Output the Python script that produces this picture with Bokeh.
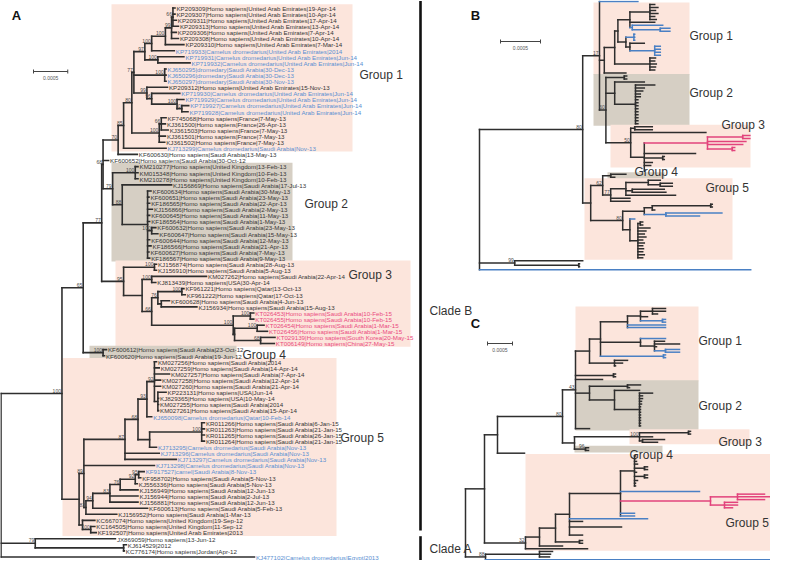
import re
from bokeh.plotting import figure
from bokeh.models import Range1d, ColumnDataSource
from bokeh.embed import file_html
from bokeh.resources import INLINE
from bokeh.core.properties import value

# ======================= DATA =======================
# Tree depths are root-to-node distances in units of 1e-4 substitutions/site
# (scale bar 0.0005 = 5 units). Internal-node labels are bootstrap values.

LABELS_A = [
    "KP209309|Homo sapiens|United Arab Emirates|19-Apr-14",
    "KP209307|Homo sapiens|United Arab Emirates|10-Apr-14",
    "KP209311|Homo sapiens|United Arab Emirates|17-Apr-14",
    "KP209313|Homo sapiens|United Arab Emirates|13-Apr-14",
    "KP209306|Homo sapiens|United Arab Emirates|7-Apr-14",
    "KP209308|Homo sapiens|United Arab Emirates|10-Apr-14",
    "KP209310|Homo sapiens|United Arab Emirates|7-Mar-14",
    "KP719933|Camelus dromedarius|United Arab Emirates|2014",
    "KP719931|Camelus dromedarius|United Arab Emirates|Jun-14",
    "KP719932|Camelus dromedarius|United Arab Emirates|Jun-14",
    "KJ650295|dromedary|Saudi Arabia|30-Dec-13",
    "KJ650296|dromedary|Saudi Arabia|30-Dec-13",
    "KJ650297|dromedary|Saudi Arabia|30-Nov-13",
    "KP209312|Homo sapiens|United Arab Emirates|15-Nov-13",
    "KP719930|Camelus dromedarius|United Arab Emirates|Jun-14",
    "KP719929|Camelus dromedarius|United Arab Emirates|Jun-14",
    "KP719927|Camelus dromedarius|United Arab Emirates|Jun-14",
    "KP719928|Camelus dromedarius|United Arab Emirates|Jun-14",
    "KF745068|Homo sapiens|France|7-May-13",
    "KJ361500|Homo sapiens|France|26-Apr-13",
    "KJ361503|Homo sapiens|France|7-May-13",
    "KJ361501|Homo sapiens|France|7-May-13",
    "KJ361502|Homo sapiens|France|7-May-13",
    "KJ713299|Camelus dromedarius|Saudi Arabia|Nov-13",
    "KF600630|Homo sapiens|Saudi Arabia|13-May-13",
    "KF600652|Homo sapiens|Saudi Arabia|30-Oct-12",
    "KM210277|Homo sapiens|United Kingdom|13-Feb-13",
    "KM015348|Homo sapiens|United Kingdom|10-Feb-13",
    "KM210278|Homo sapiens|United Kingdom|10-Feb-13",
    "KJ156869|Homo sapiens|Saudi Arabia|17-Jul-13",
    "KF600634|Homo sapiens|Saudi Arabia|30-May-13",
    "KF600651|Homo sapiens|Saudi Arabia|23-May-13",
    "KF186565|Homo sapiens|Saudi Arabia|22-Apr-13",
    "KJ156866|Homo sapiens|Saudi Arabia|2-May-13",
    "KF600645|Homo sapiens|Saudi Arabia|11-May-13",
    "KF186564|Homo sapiens|Saudi Arabia|1-May-13",
    "KF600632|Homo sapiens|Saudi Arabia|23-May-13",
    "KF600647|Homo sapiens|Saudi Arabia|15-May-13",
    "KF600644|Homo sapiens|Saudi Arabia|12-May-13",
    "KF186566|Homo sapiens|Saudi Arabia|21-Apr-13",
    "KF600627|Homo sapiens|Saudi Arabia|7-May-13",
    "KF186567|Homo sapiens|Saudi Arabia|9-May-13",
    "KJ156874|Homo sapiens|Saudi Arabia|28-Aug-13",
    "KJ156910|Homo sapiens|Saudi Arabia|5-Aug-13",
    "KM027262|Homo sapiens|Saudi Arabia|22-Apr-14",
    "KJ813439|Homo sapiens|USA|30-Apr-14",
    "KF961221|Homo sapiens|Qatar|13-Oct-13",
    "KF961222|Homo sapiens|Qatar|17-Oct-13",
    "KF600628|Homo sapiens|Saudi Arabia|4-Jun-13",
    "KJ156934|Homo sapiens|Saudi Arabia|15-Aug-13",
    "KT026453|Homo sapiens|Saudi Arabia|10-Feb-15",
    "KT026455|Homo sapiens|Saudi Arabia|10-Feb-15",
    "KT026454|Homo sapiens|Saudi Arabia|1-Mar-15",
    "KT026456|Homo sapiens|Saudi Arabia|1-Mar-15",
    "KT029139|Homo sapiens|South Korea|20-May-15",
    "KT006149|Homo sapiens|China|27-May-15",
    "KF600612|Homo sapiens|Saudi Arabia|23-Oct-12",
    "KF600620|Homo sapiens|Saudi Arabia|19-Jun-12",
    "KM027256|Homo sapiens|Saudi Arabia|2014",
    "KM027259|Homo sapiens|Saudi Arabia|14-Apr-14",
    "KM027257|Homo sapiens|Saudi Arabia|7-Apr-14",
    "KM027258|Homo sapiens|Saudi Arabia|12-Apr-14",
    "KM027260|Homo sapiens|Saudi Arabia|21-Apr-14",
    "KP223131|Homo sapiens|USA|Jun-14",
    "KJ829365|Homo sapiens|USA|10-May-14",
    "KM027255|Homo sapiens|Saudi Arabia|2014",
    "KM027261|Homo sapiens|Saudi Arabia|15-Apr-14",
    "KJ650098|Camelus dromedarius|Qatar|10-Feb-14",
    "KR011266|Homo sapiens|Saudi Arabia|6-Jan-15",
    "KR011263|Homo sapiens|Saudi Arabia|21-Jan-15",
    "KR011265|Homo sapiens|Saudi Arabia|26-Jan-15",
    "KR011264|Homo sapiens|Saudi Arabia|21-Jan-15",
    "KJ713295|Camelus dromedarius|Saudi Arabia|Nov-13",
    "KJ713296|Camelus dromedarius|Saudi Arabia|Nov-13",
    "KJ713297|Camelus dromedarius|Saudi Arabia|Nov-13",
    "KJ713298|Camelus dromedarius|Saudi Arabia|Nov-13",
    "KF917527|camel|Saudi Arabia|8-Nov-13",
    "KF958702|Homo sapiens|Saudi Arabia|5-Nov-13",
    "KJ556336|Homo sapiens|Saudi Arabia|5-Nov-13",
    "KJ156949|Homo sapiens|Saudi Arabia|12-Jun-13",
    "KJ156944|Homo sapiens|Saudi Arabia|2-Jul-13",
    "KJ156881|Homo sapiens|Saudi Arabia|12-Jun-13",
    "KF600613|Homo sapiens|Saudi Arabia|5-Feb-13",
    "KJ156952|Homo sapiens|Saudi Arabia|1-Mar-13",
    "KC667074|Homo sapiens|United Kingdom|19-Sep-12",
    "KC164505|Homo sapiens|United Kingdom|11-Sep-12",
    "KF192507|Homo sapiens|United Arab Emirates|2013",
    "JX869059|Homo sapiens|13-Jun-12",
    "KJ614529|2012",
    "KC776174|Homo sapiens|Jordan|Apr-12",
    "KJ477102|Camelus dromedarius|Egypt|2013",
]

CAMEL_A = ["KP719933", "KP719931", "KP719932", "KJ650295", "KJ650296", "KJ650297",
           "KP719930", "KP719929", "KP719927", "KP719928", "KJ713299", "KJ650098",
           "KJ713295", "KJ713296", "KJ713297", "KJ713298", "KF917527", "KJ477102"]
OUTBREAK_2015_A = ["KT026453", "KT026455", "KT026454", "KT026456", "KT029139", "KT006149"]

TREE_A = {
    "root": "({cladeB},{out79},KJ477102:37.0):0",
    "cladeB": "({n65},{g5})100:8.9",
    "n65": "({x77},{g4})65:12.0",
    "g4": "(KF600612:15.4,KF600620:15.1)100:14.9",
    "x77": "({n68},{g3})77:14.7",
    "n68": "({n70},KF600652:15.7,{n79})68:14.9",
    "n70": "({n85},KF600630:19.9)70:17.1",
    "n85": "({n80},KJ713299:24.1)85:17.9",
    "n80": "({n77},{france})80:19.1",
    "n77": "({n97},{kj650},{h99})77:19.4",
    "n97": "({c100},{e100})97:21.0",
    "c100": "({b100},KP719933:25.3)100:22.0",
    "b100": "({n99},KP209310:26.7)100:24.0",
    "n99": "({n66},KP209306:25.6,KP209308:25.9)99:24.9",
    "n66": "(KP209309:25.4,KP209307:25.4,KP209311:25.6,KP209313:25.9)66:25.1",
    "e100": "(KP719931:26.7,KP719932:27.6)100:22.9",
    "kj650": "(KJ650295:24.1,KJ650296:24.1,KJ650297:24.1)100:23.9",
    "h99": "(KP209312:24.3,{i96})99:21.3",
    "i96": "(KP719930:26.1,{j100})96:22.0",
    "j100": "(KP719929:26.7,{k70})100:25.7",
    "k70": "(KP719927:27.4,KP719928:27.3)70:26.4",
    "france": "({f66},KJ361501:24.0,KJ361502:23.9)100:23.1",
    "f66": "(KF745068:24.1,KJ361500:24.0,KJ361503:24.4)66:23.4",
    "n79": "({uk100},{n88})79:16.3",
    "uk100": "(KM210277:20.0,KM015348:20.0,KM210278:20.0)100:19.6",
    "n88": "(KJ156869:24.9,{star})88:17.7",
    "star": "(KF600634:21.9,KF600651:21.6,KF186565:21.7,KJ156866:22.1,KF600645:21.7,"
            "KF186564:21.7,{s67},KF600644:21.7,KF186566:21.9,KF600627:21.6,KF186567:21.7):21.4",
    "s67": "(KF600632:22.6,KF600647:22.9)100:22.0",
    "g3": "({g3a},{p})95:17.9",
    "g3a": "(KJ156874:22.7,KJ156910:22.7)100:22.4",
    "p": "({kmn},{q66}):20.6",
    "kmn": "(KM027262:30.0,KJ813439:22.6)100:22.0",
    "q66": "({r76},{pink})66:22.0",
    "r76": "({kf961},{t})76:22.9",
    "kf961": "(KF961221:26.7,KF961222:26.9)100:26.4",
    "t": "(KF600628:24.6,KJ156934:28.6):23.4",
    "pink": "({pa},{pb})100:33.9",
    "pa": "(KT026453:36.9,KT026455:36.9)100:36.4",
    "pb": "({pc},{pd}):34.1",
    "pc": "(KT026454:38.4,KT026456:38.9)100:37.4",
    "pd": "(KT029139:40.0,KT006149:39.9)68:37.9",
    "g5": "({n89},{ukn}):11.4",
    "n89": "({n87},KJ713298:22.4,{low83})89:12.1",
    "n87": "({n68b},KJ713296:23.1,KJ713297:25.6)87:18.1",
    "n68b": "({n93},{nq})68:20.0",
    "n93": "({n92},KJ650098:22.0)93:21.3",
    "n92": "(KM027256:22.7,KM027259:23.1,KM027257:24.6,KM027258:23.3,KM027260:23.3,{usa})92:22.4",
    "usa": "(KP223131:24.1,KJ829365:23.0,KM027255:23.0,KM027261:23.0):22.9",
    "nq": "({kr100},KJ713295:22.7):21.7",
    "kr100": "(KR011266:29.7,KR011263:29.7,KR011265:29.7,KR011264:29.7)100:29.3",
    "low83": "({n94},KJ156952:16.9)83:12.4",
    "n94": "({n83b},KF600613:21.4)94:13.4",
    "n83b": "({n76},KJ156944:20.0,KJ156881:20.0)83:15.9",
    "n76": "({n92b},KJ156949:20.0)76:17.4",
    "n92b": "({n95},KJ556336:19.9)92:19.6",
    "n95": "(KF917527:20.9,KF958702:20.4)95:20.1",
    "ukn": "(KC667074:13.7,{uk100b}):11.9",
    "uk100b": "(KC164505:13.7,KF192507:13.9)100:13.1",
    "out79": "(JX869059:16.7,(KJ614529:18.3,KC776174:18.0):17.9)79:5.0",
}

GROUPS_A = [("Group 1", "KP209309", "KJ713299"), ("Group 2", "KM210277", "KF186567"),
            ("Group 3", "KJ156874", "KT006149"), ("Group 4", "KF600612", "KF600620"),
            ("Group 5", "KM027256", "KF192507")]
CLADES_A = [("Clade B", "KP209309", "KF192507"), ("Clade A", "JX869059", "KJ477102")]

# Panels B and C: tips coded by host, h = human, c = camel, k = 2015 outbreak, f = zero-length
TREE_B = {
    "root": "({n80},{out99},c:33.9):0",
    "n80": "({n17},{g5top})80:12.9",
    "n17": "(c:19.8,{n612},{n60})17:15.0",
    "n612": "({n622},h:18.3):15.6",
    "n622": "({n625},{france}):16.9",
    "n625": "({n637a},{n633b}):17.3",
    "n637a": "({uae},h:21.9,{bluea}):18.8",
    "uae": "(h:21.9,h:22.3,h:22.0,h:22.3,h:21.9,h:22.1):21.3",
    "bluea": "(c:22.9,(c:23.8,c:23.8):22.6):19.1",
    "n633b": "((c:19.4,c:19.4,c:19.4):19.3,(h:20.6,(c:22.6,c:22.6,c:22.6,c:22.6):21.9):18.8):18.3",
    "france": "(h:22.0,h:21.9,h:22.1,h:22.0,h:21.9):21.3",
    "n60": "((h:18.4,h:18.4):18.1,{g2b},{g3})60:15.8",
    "g2b": "(h:20.6,(h:21.9,h:20.6,h:20.4,h:20.1,h:20.1,h:19.8,h:19.8,h:19.8,h:19.8,"
           "h:19.8,h:19.8,h:19.8,h:19.8,h:19.8):19.5):16.9",
    "g3": "((h:21.6,h:21.6):19.4,h:28.3,{p1})50:18.9",
    "p1": "({pk},h:27.0,(h:23.1,h:23.1):22.9,h:21.6,h:21.4,f:20.6,f:20.6):20.6",
    "pk": "((k:33.8,k:33.8):32.9,k:33.3,k:32.9,(k:31.9,k:31.9):31.6):28.5",
    "g5top": "({n62},{n80b}):13.9",
    "n62": "((h:18.3,h:16.9):16.4,{n77})62:15.4",
    "n77": "(((h:22.6,(h:24.1,h:24.1):22.6):21.1,(h:23.1,h:23.3):19.1,h:24.5):18.3,h:18.8,h:18.8)77:16.4",
    "n80b": "({n652},{n637})80:17.9",
    "n652": "(((h:29.1,h:29.1):28.9,h:21.9):21.6,(c:30.3,c:27.5):23.3):20.6",
    "n637": "(c:19.4,((h:20.4,h:20.4):20.1,h:21.3,h:20.8,h:20.6,h:20.8,h:20.4,h:20.6,"
            "h:20.4,h:20.5,h:20.4,h:20.6,h:20.4):19.8):18.8",
    "out99": "(h:12.9,(h:12.5,h:12.5):12.4)99:4.4",
}
GROUP_ROWS_B = [("Group 1", 1, 24), ("Group 2", 25, 41), ("Group 3", 42, 55),
                ("Group 4", 58, 59), ("Group 5", 60, 86)]

TREE_C = {
    "root": "({na},{n88}):0",
    "na": "({n505},{n32}):3.8",
    "n505": "({n80},h:11.8):6.4",
    "n80": "({n43},{n582})80:19.4",
    "n43": "({g1},f:22.0,f:22.0,(h:30.0,h:30.0):29.6,h:27.4,f:22.0,{g2},h:24.8)43:22.0",
    "g1": "({n608},(h:32.4,h:31.4,h:30.0):29.8):24.8",
    "n608": "({n635},f:27.0,f:27.0,f:27.0,{n648b},(c:40.0,c:40.0):39.6):27.0",
    "n635": "(({n660},h:36.4,(c:40.0,c:40.0):39.4):35.0,c:40.0,c:40.0):32.4",
    "n660": "(h:40.0,h:40.0,h:38.4):37.4",
    "n648b": "(c:40.0,(h:39.8,h:42.8,h:38.2,(c:42.8,c:42.8):40.0):37.8):35.0",
    "g2": "((h:35.0,h:32.8):32.4,(h:34.8,(h:37.4,h:35.4,h:35.4,h:35.2,h:35.2,h:35.0,h:35.0,"
          "h:35.0,h:35.0,h:35.0,h:35.0,h:35.0,h:35.0):34.8):29.8):24.8",
    "n582": "(((h:45.0,h:45.0):44.6,h:37.4,(h:39.8,h:38.4):35.4)100:34.8,f:21.8,(h:24.6,h:24.6)96:24.0):21.8",
    "n32": "({n547},h:24.4)32:12.0",
    "n547": "({n563},h:19.4):14.8",
    "n563": "({n577},f:18.0,(h:23.4,h:23.4):22.8):18.0",
    "n577": "({n628},c:36.4,h:23.4,f:20.8,h:31.2,f:20.8,f:20.8,h:23.4):20.8",
    "n628": "({n642},f:31.0,c:46.8,{pk},f:31.0,c:33.8,c:33.8):31.0",
    "n642": "(h:34.0,h:34.0,h:34.2,h:34.4,(h:36.4,h:36.4):35.8,h:34.2,(h:36.4,h:36.4):35.8,"
            "h:34.4,h:34.0,h:34.0):33.8",
    "pk": "((k:59.8,k:62.0,k:59.8):54.4,(k:54.4,k:54.4,k:53.4):51.8):49.0",
    "n88": "((h:17.4,h:17.0,h:16.8):14.8,c:62.0)88:4.0",
}
GROUP_ROWS_C = [("Group 1", 0, 26), ("Group 2", 27, 44), ("Group 3", 45, 49),
                ("Group 4", 51, 52), ("Group 5", 54, 88)]

SCALE_UNITS = 5  # 0.0005 substitutions/site
SCALE_TEXT = "0.0005"

# ======================= STYLE / LAYOUT =======================
FONT = "Liberation Sans"
DARK = "#2e2e2e"
BLUE_LINE = "#4a80c4"
PINK_LINE = "#e2437c"
BLUE_TXT = "#5a8fd2"
PINK_TXT = "#ea4a7e"
TXT = "#363636"
PINK_BOX = "#fce5dc"
GRAY_BOX = "#d6cfc4"
BOX_COL = [PINK_BOX, GRAY_BOX, PINK_BOX, GRAY_BOX, PINK_BOX]

PANEL = {
    "A": dict(x0=8.5, ppu=6.85, y0=15.5, sp=6.1),
    "B": dict(x0=487.0, ppu=8.0, y0=9.0, sp=2.98),
    "C": dict(x0=473.0, ppu=5.0, y0=316.0, sp=2.73),
}
BOX_X = {
    "A": [(119, 360), (119, 300), (123, 418), (97, 244), (70, 344)],
    "B": [(601, 697), (601, 697), (618, 758), (615, 672), (592, 740)],
    "C": [(583, 706), (583, 706), (637, 757), (582, 670), (533, 783)],
}
BOX_PAD = {"A": 3.3, "B": 2.0, "C": 2.0}
GLABEL_XY = {
    "A": [(367, 82), (312, 211), (356, 282), (250, 362), (348, 445)],
    "B": [(697, 43), (697, 100), (729, 132), (642, 179), (713, 195)],
    "C": [(706, 348), (706, 413), (726, 449), (637, 462), (733, 530)],
}
SCALEBAR_XY = {"A": (41, 79), "B": (508, 49), "C": (495, 351)}
LETTER_XY = {"A": (24, 23), "B": (483, 23), "C": (483, 331)}
CLADE_X = 428


# ======================= TREE HELPERS =======================
def expand(parts):
    s = parts["root"]
    pat = re.compile(r"\{(\w+)\}")
    while "{" in s:
        s = pat.sub(lambda m: parts[m.group(1)], s)
    return "".join(s.split())


def parse(s):
    pos = 0

    def node():
        nonlocal pos
        kids = []
        if s[pos] == "(":
            pos += 1
            while True:
                kids.append(node())
                ch = s[pos]
                pos += 1
                if ch == ")":
                    break
        st = pos
        while pos < len(s) and s[pos] not in ",():":
            pos += 1
        name = s[st:pos]
        depth = 0.0
        if pos < len(s) and s[pos] == ":":
            pos += 1
            st = pos
            while pos < len(s) and s[pos] not in ",()":
                pos += 1
            depth = float(s[st:pos])
        return {"name": name, "d": depth, "kids": kids}

    return node()


def build(parts, x0, ppu, y0, sp, colored):
    tree = parse(expand(parts))
    tips = []

    def place(n):
        n["x"] = x0 + n["d"] * ppu
        if n["kids"]:
            cols = set()
            for k in n["kids"]:
                place(k)
                cols |= k["cols"]
            n["y"] = (n["kids"][0]["y"] + n["kids"][-1]["y"]) / 2.0
            n["cols"] = cols
        else:
            n["y"] = y0 + sp * len(tips)
            tips.append(n)
            n["cols"] = set() if n["name"] == "f" else {n["name"]}

    place(tree)

    def colour(n):
        if colored and n["cols"] == {"c"}:
            return BLUE_LINE
        if colored and n["cols"] == {"k"}:
            return PINK_LINE
        return DARK

    seg = dict(x0=[], y0=[], x1=[], y1=[], c=[])
    boot = dict(x=[], y=[], t=[])

    def add(a, b, c, d, col):
        if abs(a - c) < 0.05 and abs(b - d) < 0.05:
            return
        seg["x0"].append(a); seg["y0"].append(b)
        seg["x1"].append(c); seg["y1"].append(d)
        seg["c"].append(col)

    def draw(n):
        if not n["kids"]:
            return
        add(n["x"], n["kids"][0]["y"], n["x"], n["kids"][-1]["y"], colour(n))
        for k in n["kids"]:
            add(n["x"], k["y"], k["x"], k["y"], colour(k))
            draw(k)
        if n["name"].isdigit():
            boot["x"].append(n["x"] - 1.0)
            boot["y"].append(n["y"] - 0.8)
            boot["t"].append(n["name"])

    draw(tree)
    return tips, seg, boot


# ======================= FIGURE =======================
p = figure(width=770, height=560, x_range=Range1d(8, 778), y_range=Range1d(568, 8),
           output_backend="svg", toolbar_location=None, min_border=0,
           x_axis_location=None, y_axis_location=None)
p.grid.visible = False
p.outline_line_color = None
p.background_fill_color = "white"
p.border_fill_color = "white"

fnt = value(FONT)


def row_y(panel, r):
    return PANEL[panel]["y0"] + PANEL[panel]["sp"] * r


# ---- Panel A ----
pa = PANEL["A"]
tipsA, segA, bootA = build(TREE_A, pa["x0"], pa["ppu"], pa["y0"], pa["sp"], False)
label_of = {lab.split("|")[0]: lab for lab in LABELS_A}
rowA = {t["name"]: i for i, t in enumerate(tipsA)}

for gi, (g, first, last) in enumerate(GROUPS_A):
    l, r = BOX_X["A"][gi]
    pad = BOX_PAD["A"]
    p.quad(left=l, right=r, top=row_y("A", rowA[first]) - pad - 0.5,
           bottom=row_y("A", rowA[last]) + pad, fill_color=BOX_COL[gi], line_color=None)

for pn, rows in (("B", GROUP_ROWS_B), ("C", GROUP_ROWS_C)):
    for gi, (g, r0, r1) in enumerate(rows):
        l, r = BOX_X[pn][gi]
        pad = BOX_PAD[pn]
        p.quad(left=l, right=r, top=row_y(pn, r0) - pad, bottom=row_y(pn, r1) + pad,
               fill_color=BOX_COL[gi], line_color=None)


def draw_seg(seg, lw):
    src = ColumnDataSource(seg)
    p.segment(x0="x0", y0="y0", x1="x1", y1="y1", line_color="c", line_width=lw,
              line_cap="square", source=src)


def draw_boot(boot, size="5px"):
    src = ColumnDataSource(boot)
    p.text(x="x", y="y", text="t", source=src, text_font=fnt, text_font_size=size,
           text_color="#4a4a4a", text_align="right", text_baseline="bottom")


draw_seg(segA, 1.6)
draw_boot(bootA)

tx, ty, tt, tc = [], [], [], []
for t in tipsA:
    acc = t["name"]
    tx.append(t["x"] + 1.5)
    ty.append(t["y"] + 0.3)
    tt.append(label_of[acc])
    if acc in CAMEL_A:
        tc.append(BLUE_TXT)
    elif acc in OUTBREAK_2015_A:
        tc.append(PINK_TXT)
    else:
        tc.append(TXT)
p.text(x="x", y="y", text="t", text_color="c",
       source=ColumnDataSource(dict(x=tx, y=ty, t=tt, c=tc)),
       text_font=fnt, text_font_size="6.2px", text_baseline="middle")

# ---- Panels B, C ----
for pn, parts in (("B", TREE_B), ("C", TREE_C)):
    pp = PANEL[pn]
    _, seg, boot = build(parts, pp["x0"], pp["ppu"], pp["y0"], pp["sp"], True)
    draw_seg(seg, 1.5)
    draw_boot(boot)

# ---- group labels ----
names = [g[0] for g in GROUPS_A]
for pn in ("A", "B", "C"):
    xs = [xy[0] for xy in GLABEL_XY[pn]]
    ys = [xy[1] for xy in GLABEL_XY[pn]]
    p.text(x=xs, y=ys, text=names, text_font=fnt, text_font_size="12px",
           text_color="#333333", text_baseline="middle")

# ---- clade bars ----
for name, first, last in CLADES_A:
    top = row_y("A", rowA[first]) - (7 if name == "Clade B" else 2.5)
    bot = row_y("A", rowA[last]) + (-2 if name == "Clade B" else 4)
    p.segment(x0=[CLADE_X], y0=[top], x1=[CLADE_X], y1=[bot], line_color="#111111", line_width=2.6)
    p.text(x=[CLADE_X + 9], y=[(top + bot) / 2 + (45 if name == "Clade B" else 0)], text=[name],
           text_font=fnt, text_font_size="12px", text_color="#333333", text_baseline="middle")

# ---- scale bars and panel letters ----
for pn in ("A", "B", "C"):
    sx, sy = SCALEBAR_XY[pn]
    L = SCALE_UNITS * PANEL[pn]["ppu"]
    p.segment(x0=[sx, sx, sx + L], y0=[sy, sy - 2, sy - 2], x1=[sx + L, sx, sx + L], y1=[sy, sy + 2, sy + 2],
              line_color="#444444", line_width=1)
    p.text(x=[sx + L / 2], y=[sy + 4], text=[SCALE_TEXT], text_font=fnt, text_font_size="5px",
           text_color="#555555", text_align="center", text_baseline="top")
    lx, ly = LETTER_XY[pn]
    p.text(x=[lx], y=[ly], text=[pn], text_font=fnt, text_font_size="13px", text_font_style="bold",
           text_color="#111111", text_align="center", text_baseline="middle")

open("out.html", "w").write(file_html(p, INLINE))
